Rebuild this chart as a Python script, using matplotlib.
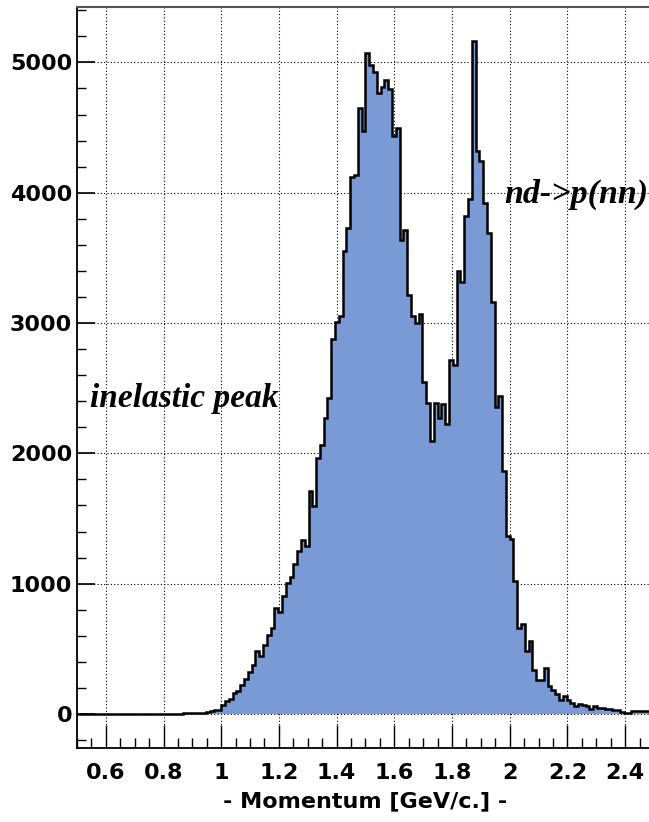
import numpy as np
import matplotlib.pyplot as plt
from matplotlib.ticker import MultipleLocator

# momentum histogram, 152 bins between 0.5 and 2.5 GeV/c
bin_lo = 0.5
bin_hi = 2.5
n_bins = 152
counts = [
    0, 0, 0, 0, 0, 0, 0, 0, 0, 0,
    0, 0, 0, 0, 0, 0, 0, 0, 0, 0,
    0, 0, 0, 0, 0, 0, 2, 3, 5, 8,
    4, 10, 6, 9, 12, 20, 33, 33, 66, 100,
    115, 165, 180, 220, 269, 320, 378, 481, 442, 532,
    609, 660, 813, 780, 908, 1005, 1050, 1150, 1254, 1338,
    1292, 1710, 1593, 1963, 2064, 2268, 2421, 2879, 3007, 3057,
    3554, 3732, 4120, 4135, 4649, 4470, 5069, 4980, 4929, 4763,
    4814, 4865, 4794, 4432, 4496, 3638, 3714, 3215, 3052, 3001,
    3070, 2548, 2388, 2095, 2388, 2273, 2375, 2222, 2714, 2676,
    3401, 3317, 3821, 3948, 5163, 4318, 4241, 3918, 3690, 3160,
    2359, 2437, 1864, 1365, 1339, 1019, 661, 694, 481, 558,
    335, 264, 259, 353, 213, 187, 156, 110, 136, 110,
    85, 59, 77, 72, 64, 38, 59, 46, 44, 40,
    38, 33, 28, 18, 10, 8, 26, 20, 20, 20,
    20, 20,
]
x_ticks = [0.6, 0.8, 1.0, 1.2, 1.4, 1.6, 1.8, 2.0, 2.2, 2.4]
x_tick_labels = ["0.6", "0.8", "1", "1.2", "1.4", "1.6", "1.8", "2", "2.2", "2.4"]
y_ticks = [0, 1000, 2000, 3000, 4000, 5000]

edges = np.linspace(bin_lo, bin_hi, n_bins + 1)

fig = plt.figure(figsize=(6.49, 8.22), dpi=100)
ax = fig.add_axes([0.1186, 0.09, 0.889, 0.9015])

ax.stairs(counts, edges, fill=True, color="#7a9ad6", zorder=2)
ax.stairs(counts, edges, color="black", linewidth=1.8, zorder=3)

ax.set_xlim(0.5, 2.5)
ax.set_ylim(-261, 5425)

ax.set_xticks(x_ticks)
ax.set_xticklabels(x_tick_labels)
ax.set_yticks(y_ticks)
ax.xaxis.set_minor_locator(MultipleLocator(0.05))
ax.yaxis.set_minor_locator(MultipleLocator(200))

ax.tick_params(axis="x", which="major", direction="in", length=16.5, width=1.0, pad=11)
ax.tick_params(axis="x", which="minor", direction="in", length=7.2, width=1.0)
ax.tick_params(axis="y", which="major", direction="in", length=13, width=1.2, pad=3.5)
ax.tick_params(axis="y", which="minor", direction="in", length=6.5, width=1.0)

for lab in ax.get_xticklabels() + ax.get_yticklabels():
    lab.set_family("DejaVu Sans")
    lab.set_weight("bold")
    lab.set_fontsize(16)

ax.grid(True, which="major", color="black", linestyle=(0, (1, 2)), linewidth=0.8)
ax.set_axisbelow(True)

for side in ["left", "bottom"]:
    ax.spines[side].set_linewidth(1.3)
ax.spines["top"].set_linewidth(1.5)
ax.spines["top"].set_color("#555555")
ax.spines["right"].set_visible(False)

ax.set_xlabel("- Momentum [GeV/c.] -", family="DejaVu Sans", weight="bold",
              fontsize=16, labelpad=6)

ax.text(0.545, 2356, "inelastic peak", family="Liberation Serif", weight="bold",
        style="italic", fontsize=24, va="baseline", zorder=4)
ax.text(1.983, 3922, "nd->p(nn)", family="Liberation Serif", weight="bold",
        style="italic", fontsize=24.5, va="baseline", zorder=4)

fig.savefig("out.png", dpi=100)
